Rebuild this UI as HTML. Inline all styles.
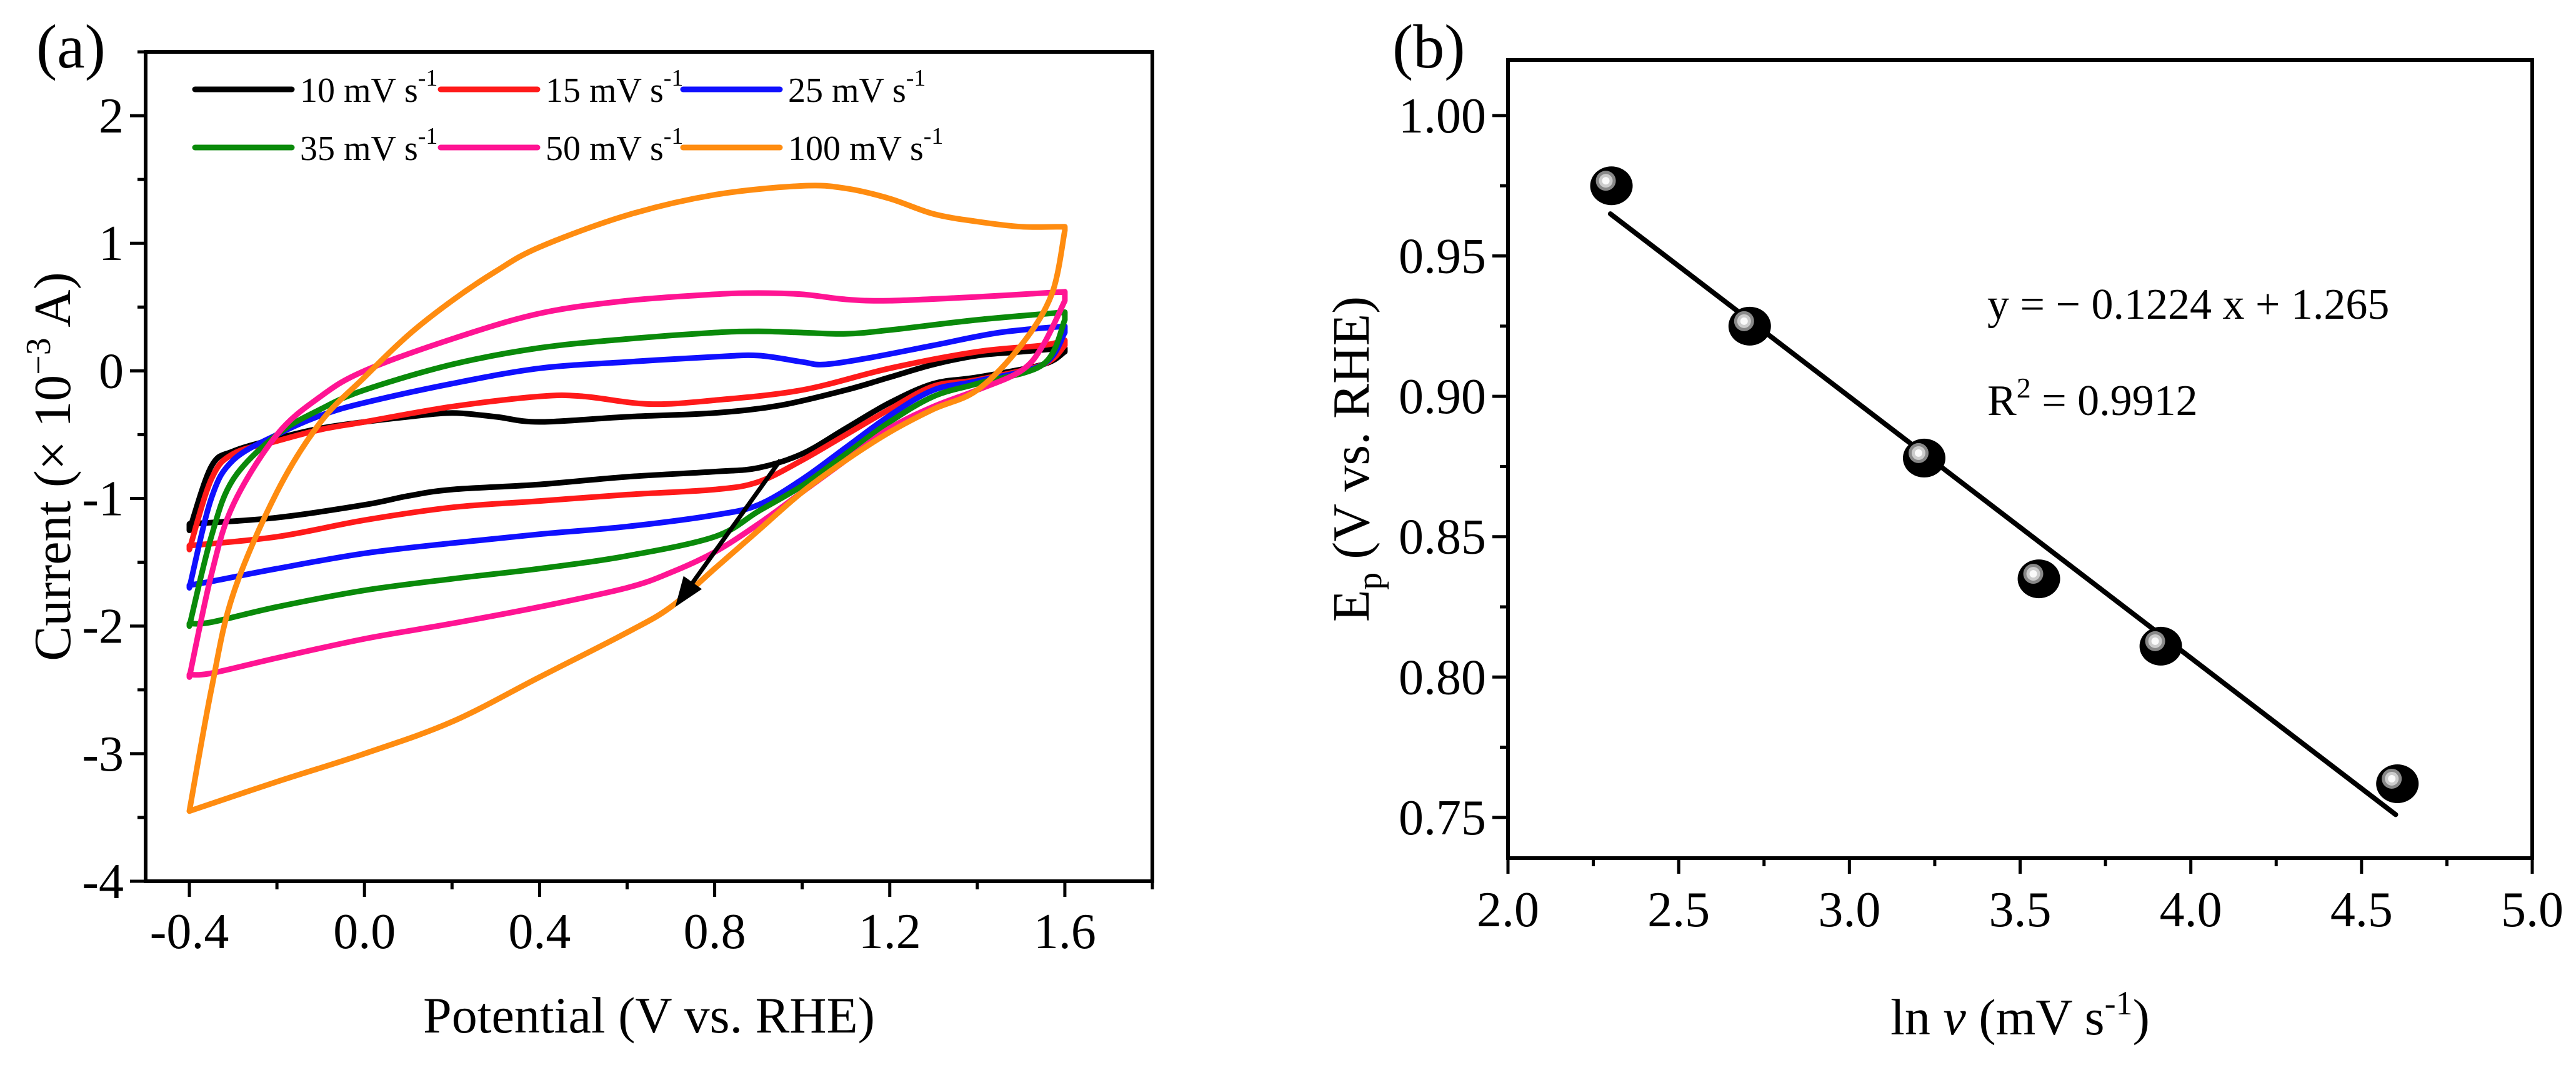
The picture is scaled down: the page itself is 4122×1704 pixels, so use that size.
<!DOCTYPE html>
<html><head><meta charset="utf-8"><style>
html,body{margin:0;padding:0;background:#fff}
svg{display:block}
text{font-family:"Liberation Serif",serif;fill:#000}
</style></head><body>
<svg id="fig" width="4122" height="1704" viewBox="0 0 4122 1704" xmlns="http://www.w3.org/2000/svg">
<g id="pa"></g>
<g id="pb"></g>
</svg>
<script>
// ---- Panel (a) data: potentials and currents (x10^-3 A) ----
const cvLabels = ["10 mV s","15 mV s","25 mV s","35 mV s","50 mV s","100 mV s"];
const cvColors = ["#000000","#ff1a1a","#1010ff","#0a8a0a","#ff1493","#ff8c10"];
const fwdX0 = [-0.4,-0.35,-0.3,-0.2,-0.1,0,0.1,0.2,0.3,0.4,0.6,0.8,0.95,1.1,1.2,1.3,1.4,1.5,1.6];
const fwdY0 = [-1.25,-0.75,-0.63,-0.53,-0.45,-0.4,-0.36,-0.33,-0.36,-0.4,-0.36,-0.33,-0.27,-0.15,-0.05,0.05,0.12,0.15,0.18];
const revX0 = [1.6,1.55,1.4,1.3,1.2,1.1,1.0,0.9,0.8,0.6,0.4,0.2,0.1,0,-0.2,-0.4];
const revY0 = [0.15,0.05,-0.05,-0.1,-0.25,-0.45,-0.65,-0.76,-0.79,-0.83,-0.89,-0.93,-0.98,-1.05,-1.15,-1.2];
const fwdX1 = [-0.4,-0.35,-0.3,-0.2,-0.1,0,0.2,0.4,0.5,0.65,0.8,1.0,1.2,1.4,1.55,1.6];
const fwdY1 = [-1.4,-0.85,-0.65,-0.55,-0.46,-0.4,-0.28,-0.2,-0.2,-0.26,-0.23,-0.15,0.02,0.15,0.2,0.24];
const revX1 = [1.6,1.55,1.4,1.3,1.2,1.1,1.0,0.9,0.8,0.6,0.4,0.2,0,-0.2,-0.4];
const revY1 = [0.2,0.05,-0.07,-0.12,-0.3,-0.5,-0.7,-0.87,-0.93,-0.97,-1.02,-1.07,-1.17,-1.3,-1.37];
const fwdX2 = [-0.4,-0.35,-0.3,-0.2,-0.1,0,0.2,0.4,0.6,0.8,0.9,1.0,1.05,1.15,1.3,1.45,1.6];
const fwdY2 = [-1.7,-1.0,-0.7,-0.5,-0.35,-0.25,-0.1,0.02,0.07,0.11,0.12,0.07,0.05,0.1,0.2,0.3,0.35];
const revX2 = [1.6,1.55,1.4,1.3,1.2,1.1,1.0,0.9,0.8,0.6,0.4,0.2,0,-0.2,-0.35,-0.4];
const revY2 = [0.3,0.05,-0.08,-0.15,-0.35,-0.6,-0.85,-1.05,-1.13,-1.22,-1.28,-1.35,-1.43,-1.55,-1.65,-1.68];
const fwdX3 = [-0.4,-0.35,-0.3,-0.2,-0.1,0,0.2,0.4,0.6,0.8,0.9,1.0,1.1,1.2,1.4,1.6];
const fwdY3 = [-2.0,-1.3,-0.85,-0.5,-0.3,-0.15,0.05,0.18,0.25,0.3,0.31,0.3,0.29,0.32,0.4,0.46];
const revX3 = [1.6,1.55,1.4,1.3,1.2,1.1,1.0,0.9,0.8,0.6,0.4,0.2,0,-0.2,-0.35,-0.4];
const revY3 = [0.4,0.05,-0.1,-0.2,-0.4,-0.65,-0.9,-1.1,-1.3,-1.45,-1.55,-1.63,-1.72,-1.85,-1.97,-1.98];
const fwdX4 = [-0.4,-0.35,-0.3,-0.2,-0.1,0,0.2,0.4,0.6,0.8,0.9,1.0,1.1,1.2,1.4,1.6];
const fwdY4 = [-2.4,-1.6,-1.05,-0.5,-0.2,0.0,0.25,0.45,0.55,0.6,0.61,0.6,0.56,0.55,0.58,0.62];
const revX4 = [1.6,1.55,1.5,1.4,1.3,1.2,1.1,1.0,0.9,0.8,0.7,0.6,0.4,0.2,0,-0.2,-0.35,-0.4];
const revY4 = [0.55,0.2,0.0,-0.15,-0.28,-0.45,-0.7,-0.95,-1.2,-1.42,-1.58,-1.7,-1.85,-1.98,-2.1,-2.25,-2.37,-2.38];
const fwdX5 = [-0.4,-0.35,-0.3,-0.2,-0.1,0,0.1,0.2,0.3,0.4,0.6,0.8,1.0,1.1,1.2,1.3,1.4,1.5,1.6];
const fwdY5 = [-3.45,-2.5,-1.75,-0.95,-0.4,-0.05,0.28,0.55,0.78,0.97,1.22,1.38,1.45,1.43,1.35,1.23,1.17,1.13,1.13];
const revX5 = [1.6,1.57,1.5,1.4,1.3,1.2,1.1,1.0,0.9,0.8,0.7,0.6,0.4,0.2,0,-0.2,-0.4];
const revY5 = [1.1,0.6,0.2,-0.15,-0.3,-0.48,-0.7,-0.95,-1.25,-1.55,-1.85,-2.05,-2.4,-2.75,-3.0,-3.22,-3.45];
const cvFwdX=[fwdX0,fwdX1,fwdX2,fwdX3,fwdX4,fwdX5], cvFwdY=[fwdY0,fwdY1,fwdY2,fwdY3,fwdY4,fwdY5];
const cvRevX=[revX0,revX1,revX2,revX3,revX4,revX5], cvRevY=[revY0,revY1,revY2,revY3,revY4,revY5];
const arrowX = [0.95,0.71];
const arrowY = [-0.7,-1.85];
const aXTicks = [-0.4,0.0,0.4,0.8,1.2,1.6];
const aXTickLabels = ["-0.4","0.0","0.4","0.8","1.2","1.6"];
const aYTicks = [-4,-3,-2,-1,0,1,2];
const aYTickLabels = ["-4","-3","-2","-1","0","1","2"];

// ---- Panel (b) data ----
const lnV = [2.303,2.708,3.219,3.555,3.912,4.605];
const Ep = [0.975,0.925,0.878,0.835,0.811,0.762];
const fitX = [2.3,4.6];
const fitY = [0.965,0.751];
const bXTicks = [2.0,2.5,3.0,3.5,4.0,4.5,5.0];
const bXTickLabels = ["2.0","2.5","3.0","3.5","4.0","4.5","5.0"];
const bYTicks = [0.75,0.80,0.85,0.90,0.95,1.00];
const bYTickLabels = ["0.75","0.80","0.85","0.90","0.95","1.00"];

const NS="http://www.w3.org/2000/svg";
function mk(parent,tag,attrs){const e=document.createElementNS(NS,tag);for(const k in attrs)e.setAttribute(k,attrs[k]);parent.appendChild(e);return e;}
function smooth(pts){let d="M"+pts[0][0]+","+pts[0][1];for(let i=0;i<pts.length-1;i++){const p0=pts[Math.max(0,i-1)],p1=pts[i],p2=pts[i+1],p3=pts[Math.min(pts.length-1,i+2)];const c1x=p1[0]+(p2[0]-p0[0])/6,c1y=p1[1]+(p2[1]-p0[1])/6,c2x=p2[0]-(p3[0]-p1[0])/6,c2y=p2[1]-(p3[1]-p1[1])/6;d+=" C"+c1x+","+c1y+" "+c2x+","+c2y+" "+p2[0]+","+p2[1];}return d;}

// ===== Panel a =====
const A={l:233,r:1844,t:83,b:1410,x0:-0.5,x1:1.8,y0:-4,y1:2.5};
const ax=v=>A.l+(v-A.x0)/(A.x1-A.x0)*(A.r-A.l);
const ay=v=>A.b-(v-A.y0)/(A.y1-A.y0)*(A.b-A.t);
const pa=document.getElementById('pa');
for(let s=0;s<6;s++){
  const pts=[];
  cvFwdX[s].forEach((x,i)=>pts.push([ax(x),ay(cvFwdY[s][i])]));
  const pts2=[];
  cvRevX[s].forEach((x,i)=>pts2.push([ax(x),ay(cvRevY[s][i])]));
  const p=mk(pa,'path',{d:smooth(pts)+" L"+pts2[0][0]+","+pts2[0][1]+smooth(pts2).replace(/^M[^ ]+/,"")+" Z",fill:"none",stroke:cvColors[s],"stroke-width":9,"stroke-linejoin":"round"});
  
  
}
// arrow
{
  const x1=ax(arrowX[0]),y1=ay(arrowY[0]),x2=ax(arrowX[1]),y2=ay(arrowY[1]);
  const ang=Math.atan2(y2-y1,x2-x1);
  const g=mk(pa,'g',{});
  
  
  mk(g,'line',{x1:x1,y1:y1,x2:x2-30*Math.cos(ang),y2:y2-30*Math.sin(ang),stroke:"#000","stroke-width":7});
  const L=48,W=18;
  const bx=x2-L*Math.cos(ang),by=y2-L*Math.sin(ang);
  mk(g,'polygon',{points:`${x2},${y2} ${bx+W*Math.sin(ang)},${by-W*Math.cos(ang)} ${bx-W*Math.sin(ang)},${by+W*Math.cos(ang)}`,fill:"#000"});
}
// frame
{const f=mk(pa,'rect',{x:A.l,y:A.t,width:A.r-A.l,height:A.b-A.t,fill:"none",stroke:"#000","stroke-width":6});
}
// x ticks
for(let v=-0.4;v<=1.81;v+=0.2){const major=Math.abs(Math.round(v*10)%4)===0;const X=ax(v);mk(pa,'line',{x1:X,y1:A.b,x2:X,y2:A.b+(major?25:13),stroke:"#000","stroke-width":5});}
aXTicks.forEach((v,i)=>{const t=mk(pa,'text',{x:ax(v),y:1517,"font-size":80,"text-anchor":"middle"});t.textContent=aXTickLabels[i];
});
for(let v=-4;v<=2.51;v+=0.5){const major=Math.abs(v%1)<1e-6;const Y=ay(v);mk(pa,'line',{x1:A.l,y1:Y,x2:A.l-(major?25:13),y2:Y,stroke:"#000","stroke-width":5});}
aYTicks.forEach((v,i)=>{const t=mk(pa,'text',{x:A.l-35,y:ay(v)+27,"font-size":80,"text-anchor":"end"});t.textContent=aYTickLabels[i];
});
// titles
{const t=mk(pa,'text',{x:(A.l+A.r)/2,y:1652,"font-size":82,"text-anchor":"middle"});t.textContent="Potential (V vs. RHE)";
}
{const t=mk(pa,'text',{x:0,y:0,"font-size":84,"text-anchor":"middle",transform:`translate(112,${(A.t+A.b)/2}) rotate(-90)`});
t.innerHTML='Current (× 10<tspan font-size="56" dy="-32">−3</tspan><tspan dy="32"> A)</tspan>';
}
{const t=mk(pa,'text',{x:58,y:108,"font-size":100});t.textContent="(a)";
}
// legend
const legX=[312,705,1093], legY=[143,236];
for(let s=0;s<6;s++){
  const c=s%3,r=Math.floor(s/3);
  const g=mk(pa,'g',{});
  
  
  mk(g,'line',{x1:legX[c],y1:legY[r],x2:legX[c]+155,y2:legY[r],stroke:cvColors[s],"stroke-width":9,"stroke-linecap":"round"});
  const t=mk(g,'text',{x:legX[c]+168,y:legY[r]+20,"font-size":56});
  t.innerHTML=cvLabels[s]+'<tspan font-size="38" dy="-26">-1</tspan>';
}

// ===== Panel b =====
const B={l:2413,r:4052,t:96,b:1373,x0:2.0,x1:5.0,y0:0.7355,y1:1.0198};
const bx=v=>B.l+(v-B.x0)/(B.x1-B.x0)*(B.r-B.l);
const by=v=>B.b-(v-B.y0)/(B.y1-B.y0)*(B.b-B.t);
const pb=document.getElementById('pb');
{const f=mk(pb,'rect',{x:B.l,y:B.t,width:B.r-B.l,height:B.b-B.t,fill:"none",stroke:"#000","stroke-width":6});
}
{const l=mk(pb,'line',{x1:bx(fitX[0]),y1:by(fitY[0]),x2:bx(fitX[1]),y2:by(fitY[1]),stroke:"#000","stroke-width":8,"stroke-linecap":"round"});
}
lnV.forEach((x,i)=>{
  const X=bx(x),Y=by(Ep[i]);
  const g=mk(pb,'g',{});
  
  
  mk(g,'ellipse',{cx:X,cy:Y,rx:34,ry:31,fill:"#000"});
  mk(g,'circle',{cx:X-9,cy:Y-8,r:16,fill:"#888"});
  mk(g,'circle',{cx:X-9,cy:Y-8,r:11,fill:"#ccc"});
  mk(g,'circle',{cx:X-9,cy:Y-8,r:6,fill:"#fafafa"});
});
for(let v=2.0;v<=5.01;v+=0.25){const major=Math.abs((v*2)%1)<1e-6;const X=bx(v);mk(pb,'line',{x1:X,y1:B.b,x2:X,y2:B.b+(major?25:13),stroke:"#000","stroke-width":5});}
bXTicks.forEach((v,i)=>{const t=mk(pb,'text',{x:bx(v),y:1482,"font-size":80,"text-anchor":"middle"});t.textContent=bXTickLabels[i];
});
for(let v=0.75;v<=1.0001;v+=0.025){const major=Math.abs((v*20)-Math.round(v*20))<1e-6;const Y=by(v);mk(pb,'line',{x1:B.l,y1:Y,x2:B.l-(major?25:13),y2:Y,stroke:"#000","stroke-width":5});}
bYTicks.forEach((v,i)=>{const t=mk(pb,'text',{x:B.l-35,y:by(v)+27,"font-size":80,"text-anchor":"end"});t.textContent=bYTickLabels[i];
});
{const t=mk(pb,'text',{x:(B.l+B.r)/2,y:1655,"font-size":82,"text-anchor":"middle"});
t.innerHTML='ln <tspan font-style="italic">v</tspan> (mV s<tspan font-size="54" dy="-32">-1</tspan><tspan dy="32">)</tspan>';
}
{const t=mk(pb,'text',{x:0,y:0,"font-size":84,"text-anchor":"middle",transform:`translate(2190,${(B.t+B.b)/2}) rotate(-90)`});
t.innerHTML='E<tspan font-size="56" dy="20">p</tspan><tspan dy="-20"> (V vs. RHE)</tspan>';
}
{const t=mk(pb,'text',{x:2228,y:108,"font-size":100});t.textContent="(b)";
}
{const t=mk(pb,'text',{x:3180,y:510,"font-size":70});t.textContent="y = − 0.1224 x + 1.265";
}
{const t=mk(pb,'text',{x:3180,y:664,"font-size":70});t.innerHTML='R<tspan font-size="46" dy="-28">2</tspan><tspan dy="28"> = 0.9912</tspan>';
}
</script>
</body></html>
